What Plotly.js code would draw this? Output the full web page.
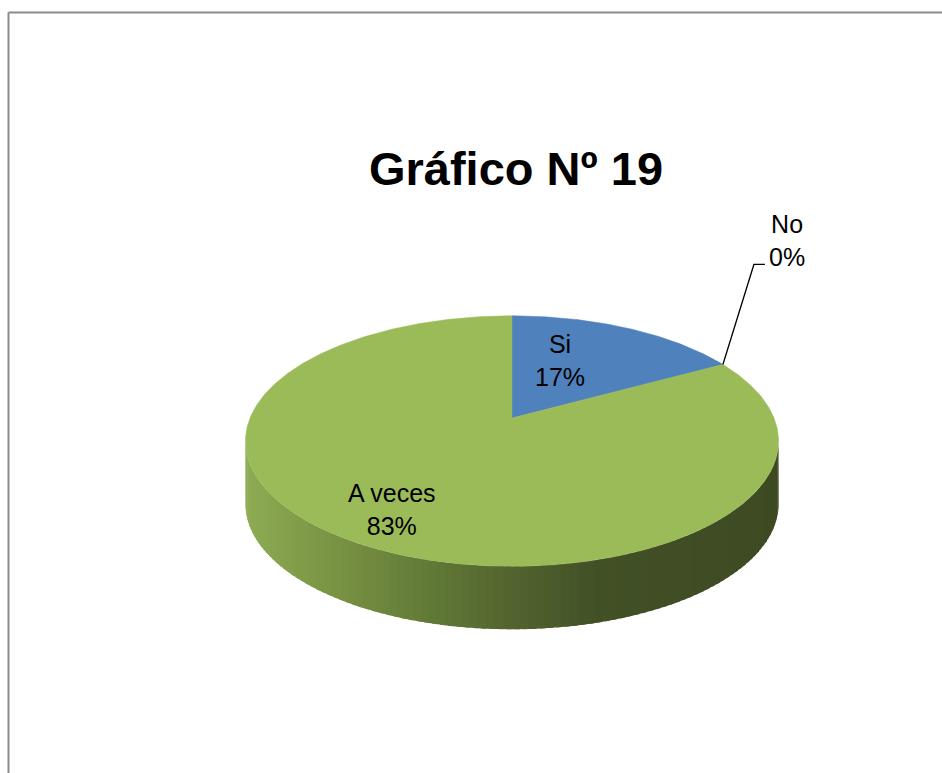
<!DOCTYPE html>
<html>
<head>
<meta charset="utf-8">
<script src="https://cdn.plot.ly/plotly-3.0.1.min.js"></script>
<style>html,body{margin:0;padding:0;background:#fff;}#chart{width:942px;height:773px;}</style>
</head>
<body>
<div id="chart"></div>
<script>
// ---- data ----
const labels = ['Si', 'No', 'A veces'];
const values = [17, 0, 83];
const sliceColors = ['#4F81BD', '#C0504D', '#9BBB59'];
const chartTitle = 'Gráfico Nº 19';

// ---- geometry / style (not data) ----
const CX = 512, CY = 418, K = 262, KM = 121, P = 0.184, H = 63;
const FONT = 'Liberation Sans, Arial, sans-serif';
const LABEL_POS = { 'Si': [560, 360], 'A veces': [392, 509] };
const sideStops = [[245,[142,172,84]],[330,[122,148,68]],[420,[100,124,56]],[512,[82,100,46]],[600,[66,80,38]],[780,[62,74,35]]];

function proj(deg, r) {
  r = (r === undefined) ? 1 : r;
  const t = deg * Math.PI / 180;
  const X = r * Math.sin(t), Z = r * Math.cos(t);
  const d = 1 + P * Z;
  return [CX + K * X / d, CY - KM * Z / d];
}
function sideColor(x) {
  if (x <= sideStops[0][0]) return 'rgb(' + sideStops[0][1].join(',') + ')';
  for (let i = 1; i < sideStops.length; i++) {
    if (x <= sideStops[i][0]) {
      const a = sideStops[i-1], b = sideStops[i];
      const f = (x - a[0]) / (b[0] - a[0]);
      const c = a[1].map((v, j) => Math.round(v + (b[1][j] - v) * f));
      return 'rgb(' + c.join(',') + ')';
    }
  }
  return 'rgb(' + sideStops[sideStops.length-1][1].join(',') + ')';
}

const total = values.reduce((a, b) => a + b, 0);
const starts = [], ends = [];
let cum = 0;
values.forEach(v => { starts.push(cum); cum += v / total * 360; ends.push(cum); });

const traces = [];
const base = { type: 'scatter', mode: 'lines', hoverinfo: 'skip', showlegend: false };

// side walls (visible front part, between the silhouette extremes)
const visA = Math.acos(-P) * 180 / Math.PI, visB = 360 - visA;
values.forEach((v, i) => {
  if (v <= 0) return;
  const a0 = Math.max(starts[i], visA), a1 = Math.min(ends[i], visB);
  if (a1 <= a0) return;
  const step = 1.5;
  for (let a = a0; a < a1 - 1e-9; a += step) {
    const b = Math.min(a + step * 1.6, a1);
    const xs = [], ys = [];
    const n = 6;
    for (let k = 0; k <= n; k++) { const t = a + (b - a) * k / n; const p = proj(t); xs.push(p[0]); ys.push(p[1]); }
    for (let k = n; k >= 0; k--) { const t = a + (b - a) * k / n; const p = proj(t); xs.push(p[0]); ys.push(p[1] + H); }
    xs.push(xs[0]); ys.push(ys[0]);
    const col = sideColor((proj(a)[0] + proj(Math.min(a + step, a1))[0]) / 2);
    traces.push(Object.assign({}, base, { x: xs, y: ys, fill: 'toself', fillcolor: col, line: { color: col, width: 0 } }));
  }
});

// top faces
values.forEach((v, i) => {
  if (v <= 0) return;
  const xs = [CX], ys = [CY];
  for (let t = starts[i]; t <= ends[i] + 1e-9; t += 0.5) { const p = proj(t); xs.push(p[0]); ys.push(p[1]); }
  const pe = proj(ends[i]); xs.push(pe[0]); ys.push(pe[1]);
  xs.push(CX); ys.push(CY);
  traces.push(Object.assign({}, base, { x: xs, y: ys, fill: 'toself', fillcolor: sliceColors[i], line: { color: sliceColors[i], width: 0.5 }, name: labels[i] }));
});

// labels
const annotations = [];
values.forEach((v, i) => {
  const pct = Math.round(v / total * 100) + '%';
  const txt = labels[i] + '<br>' + pct;
  if (v > 0 && LABEL_POS[labels[i]]) {
    const pos = LABEL_POS[labels[i]];
    annotations.push({ x: pos[0], y: pos[1], xref: 'x', yref: 'y', text: txt, showarrow: false,
      xanchor: 'center', yanchor: 'middle', align: 'center', font: { family: FONT, size: 25, color: '#000' } });
  } else {
    // leader line for zero-size slice
    const p0 = proj(starts[i]);
    const p1 = [p0[0] + 31, p0[1] - 100];
    const p2 = [p1[0] + 11, p1[1]];
    traces.push(Object.assign({}, base, { x: [p0[0], p1[0], p2[0]], y: [p0[1], p1[1], p2[1]], line: { color: '#000', width: 1.3 } }));
    annotations.push({ x: p2[0] + 22, y: p2[1] - 24, xref: 'x', yref: 'y', text: txt, showarrow: false,
      xanchor: 'center', yanchor: 'middle', align: 'center', font: { family: FONT, size: 25, color: '#000' } });
  }
});

const layout = {
  width: 942, height: 773,
  margin: { l: 0, r: 0, t: 0, b: 0 },
  paper_bgcolor: '#ffffff', plot_bgcolor: '#ffffff',
  title: { text: '<b>' + chartTitle + '</b>', font: { family: FONT, size: 47, color: '#000' },
    x: 516 / 942, xanchor: 'center', xref: 'paper', y: 1 - 169 / 773, yanchor: 'middle', yref: 'container' },
  xaxis: { range: [0, 942], visible: false, fixedrange: true },
  yaxis: { range: [773, 0], visible: false, fixedrange: true },
  showlegend: false,
  annotations: annotations,
  shapes: [
    { type: 'line', xref: 'x', yref: 'y', x0: 8.5, y0: 12.5, x1: 8.5, y1: 773, line: { color: '#8c8c8c', width: 2 }, layer: 'below' },
    { type: 'line', xref: 'x', yref: 'y', x0: 8.5, y0: 12.5, x1: 942, y1: 12.5, line: { color: '#8c8c8c', width: 2 }, layer: 'below' }
  ]
};

Plotly.newPlot('chart', traces, layout, { displayModeBar: false, staticPlot: true });
</script>
</body>
</html>
